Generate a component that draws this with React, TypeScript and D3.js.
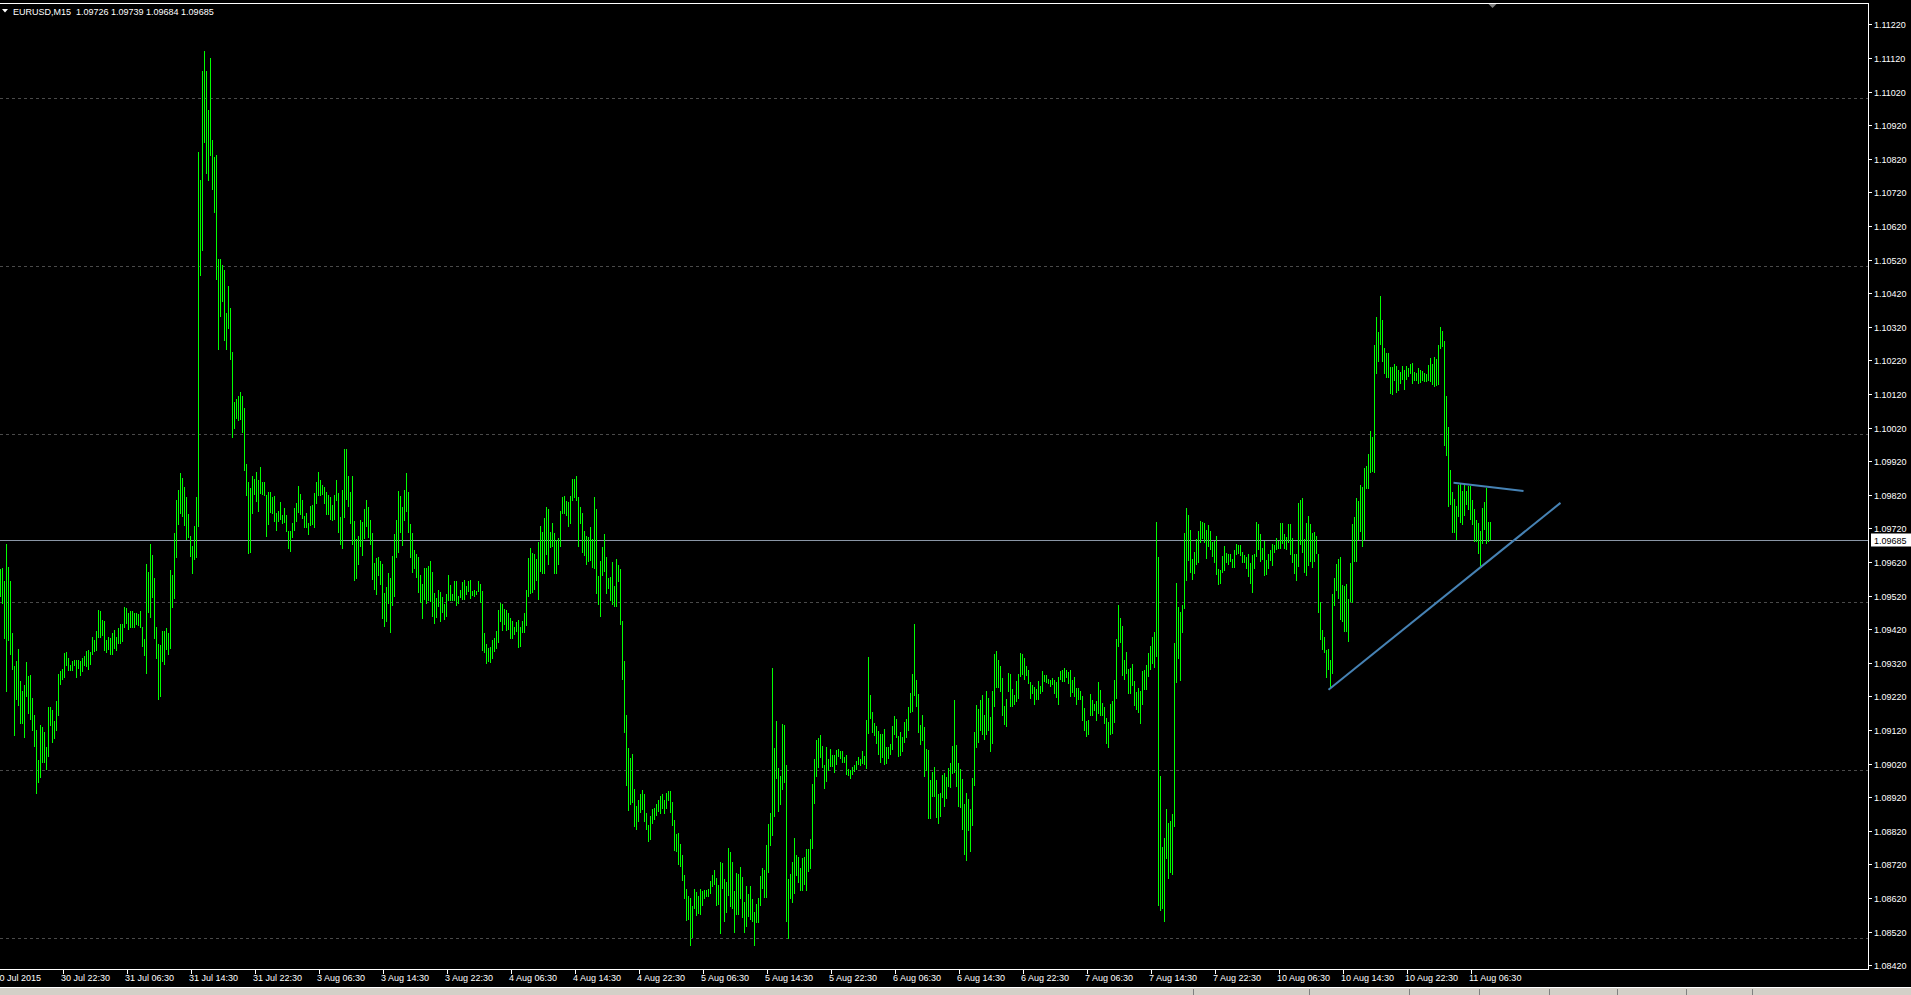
import React from "react";
import * as d3 from "d3";

// ---- data (prices stored as pips above 1.08000) ----
const SYMBOL = "EURUSD,M15";
const LAST_OHLC = ["1.09726", "1.09739", "1.09684", "1.09685"];
const LAST_PRICE = 1.09685;
const PIP_BASE = 1.08;

const HIGHS = [
  159.8,160.3,156.2,167.4,160.6,156.2,140.8,131.0,132.5,136.1,
  126.6,123.7,125.5,132.2,128.1,128.4,121.4,116.4,112.0,103.2,
  113.5,112.9,111.3,106.9,118.9,118.9,118.1,114.8,120.6,128.8,
  129.6,130.3,135.0,135.3,133.5,131.4,132.5,132.9,132.8,132.8,
  132.5,133.5,133.9,135.4,135.8,135.1,139.6,138.8,141.5,147.7,
  147.4,144.8,144.5,138.8,139.8,139.4,141.0,141.7,139.6,142.4,
  143.6,143.4,148.6,148.3,146.8,147.4,147.4,146.7,146.7,146.5,
  147.4,142.6,139.1,161.4,159.1,167.4,164.1,157.1,142.7,137.6,
  137.3,141.5,141.5,142.4,140.8,159.7,158.1,170.7,180.5,183.5,
  188.5,186.9,184.4,181.3,176.4,169.8,166.9,172.7,181.3,283.9,
  275.6,308.0,314.0,308.0,296.6,312.1,287.7,282.4,283.0,252.3,
  252.3,250.5,248.8,236.2,244.0,237.7,224.4,209.6,210.6,211.3,
  212.5,211.5,207.7,191.3,185.9,184.0,187.5,186.6,188.8,186.4,
  190.3,185.8,185.8,181.9,182.8,182.8,181.3,181.6,176.6,177.2,
  179.9,176.0,178.1,176.0,171.2,171.2,173.6,178.1,179.6,184.6,
  182.2,180.5,175.7,176.6,173.6,178.7,179.0,182.5,185.8,188.8,
  186.4,184.9,184.3,182.8,181.9,181.3,179.0,181.9,186.4,182.5,
  175.4,183.4,195.6,195.6,187.6,182.8,187.6,174.2,168.9,169.7,
  174.5,173.9,177.8,180.5,178.4,174.5,170.6,161.7,163.2,163.5,
  162.3,161.4,152.8,154.6,158.7,157.2,163.8,170.3,174.5,183.1,
  181.6,178.4,183.4,188.5,182.8,173.3,170.6,165.6,164.4,163.5,
  158.1,155.5,160.2,160.2,160.8,162.3,159.0,152.9,151.4,153.7,
  153.2,151.7,149.5,152.6,158.1,155.2,152.6,156.3,156.3,152.0,
  153.7,156.0,156.6,154.9,156.3,156.6,153.5,153.7,153.4,156.3,
  155.5,153.4,140.9,137.6,136.5,136.7,138.9,139.4,141.5,147.7,
  149.8,149.5,148.0,147.7,146.8,145.3,144.4,142.7,144.1,144.7,
  142.7,144.4,146.8,153.7,163.2,166.2,164.7,164.4,162.9,168.0,
  172.7,170.9,175.1,178.4,177.8,170.9,173.6,170.6,168.6,169.2,
  177.2,181.3,181.6,180.2,179.9,181.6,186.7,186.7,187.6,181.3,
  178.4,176.6,171.2,169.7,169.4,172.4,168.9,181.3,177.8,157.8,
  162.3,166.5,170.3,163.5,157.2,157.6,162.0,155.0,163.0,161.0,
  160.0,144.4,132.5,116.5,106.6,103.7,104.9,94.4,89.4,91.2,
  93.0,94.2,93.0,87.3,83.7,86.4,88.5,88.8,90.0,91.2,
  92.4,93.0,91.2,93.3,93.9,93.9,90.6,85.2,81.1,81.4,
  78.1,74.8,68.9,64.7,62.6,62.0,59.6,64.7,63.8,62.6,
  64.7,64.1,64.4,64.4,64.7,67.1,68.9,70.3,68.0,65.9,
  72.7,72.4,67.7,66.8,76.9,75.7,72.7,64.1,69.5,69.2,
  71.2,68.3,60.8,65.6,63.2,65.6,61.7,57.8,60.2,62.0,
  68.6,70.9,70.3,77.8,84.0,87.3,130.5,106.6,114.7,100.7,
  98.3,113.8,113.5,101.6,67.7,69.2,72.7,79.9,74.8,74.2,
  70.9,73.9,74.2,76.6,76.6,79.6,95.9,103.4,109.0,109.6,
  110.5,107.2,101.6,106.9,103.4,106.4,104.6,104.6,106.1,106.4,
  105.8,105.8,104.0,104.6,100.4,100.1,101.1,101.6,102.8,104.0,
  103.4,105.8,104.3,115.0,133.7,122.4,117.4,114.1,113.2,111.7,
  110.8,110.8,112.3,106.9,106.9,107.8,113.2,116.2,115.3,110.2,
  111.4,109.9,114.4,115.3,118.9,123.0,128.7,143.6,126.9,122.7,
  113.5,116.5,112.9,106.4,106.1,97.1,99.5,101.0,97.1,93.0,
  93.3,98.6,99.2,98.0,100.7,102.2,107.2,120.9,107.5,102.2,
  100.4,97.4,90.0,93.3,91.5,88.5,97.7,111.4,119.4,118.3,
  120.9,122.4,116.5,123.6,121.5,115.9,123.6,134.6,135.5,132.8,
  131.1,127.5,119.1,121.2,129.0,128.7,124.2,122.4,126.6,128.7,
  134.9,134.6,133.4,131.1,129.9,126.3,125.4,124.8,124.2,126.6,
  125.1,129.6,128.5,128.4,127.2,126.9,127.5,126.9,126.4,127.8,
  129.6,130.0,130.5,130.0,129.3,129.9,126.9,127.8,124.5,124.5,
  123.7,122.1,118.6,114.8,115.0,122.7,120.9,119.7,120.6,126.3,
  123.9,120.0,118.9,115.6,114.4,119.7,120.6,126.9,139.1,149.2,
  145.3,143.0,132.8,135.2,130.2,130.5,131.6,126.6,123.3,124.5,
  123.6,129.6,129.9,131.4,134.9,137.0,139.7,141.2,173.9,163.5,
  98.3,77.2,79.9,88.5,84.3,84.9,87.0,137.9,155.8,148.6,
  147.1,149.2,170.6,178.1,176.0,171.5,162.9,165.0,168.8,171.2,
  174.2,173.9,173.6,171.5,173.0,171.2,168.1,168.3,169.7,159.9,
  159.7,163.8,166.8,164.7,164.4,164.4,162.9,165.6,167.4,167.1,
  167.1,165.0,164.1,163.5,164.4,161.7,164.1,164.4,173.9,173.3,
  170.3,166.2,168.3,162.6,164.4,165.6,167.4,167.1,169.1,168.3,
  173.6,173.6,170.3,169.4,173.3,173.3,169.1,164.4,164.4,179.6,
  180.5,181.0,168.8,173.6,175.7,173.3,170.6,170.9,169.7,164.4,
  150.1,141.8,139.7,135.8,136.1,132.8,152.5,157.2,161.4,162.9,
  163.5,155.2,155.0,155.5,151.0,161.7,173.3,175.4,181.1,180.2,
  184.9,184.3,190.0,190.6,194.1,201.0,199.2,226.6,234.9,230.5,
  241.2,234.0,225.7,224.2,224.2,220.0,220.0,220.9,220.3,219.1,
  218.6,220.3,219.1,220.3,219.7,220.9,221.2,218.6,218.3,219.7,
  219.1,218.8,218.3,218.0,220.6,222.7,220.9,223.0,222.4,226.6,
  231.9,230.8,227.8,211.4,202.2,189.4,182.8,180.8,178.7,184.9,
  185.2,183.1,185.2,183.1,184.6,184.6,180.5,177.8,174.5,173.7,
  171.2,178.1,179.9,184.0,173.9,173.9,
];

const LOWS = [
  151.5,149.6,139.1,123.4,138.6,134.2,130.0,110.1,120.8,119.0,
  113.7,113.9,109.5,121.9,116.8,115.0,111.6,106.9,93.0,96.2,
  97.8,102.3,102.3,100.0,104.1,113.2,108.2,109.4,111.6,116.1,
  125.3,126.8,127.4,131.0,129.7,129.6,129.6,130.9,127.6,130.3,
  128.2,129.3,130.9,130.7,129.8,131.2,134.4,135.3,135.4,139.5,
  139.5,140.1,135.4,134.9,135.7,134.2,134.2,136.1,135.5,137.6,
  137.6,138.3,142.4,143.4,141.7,142.4,142.4,142.4,143.2,143.0,
  142.3,136.6,133.9,128.8,146.8,145.2,151.2,139.1,133.2,120.8,
  121.9,132.2,131.3,135.7,134.2,136.0,148.3,150.9,163.1,172.9,
  176.4,175.3,172.7,168.6,169.1,163.6,158.4,162.5,163.3,172.3,
  247.0,254.6,286.8,277.6,275.4,282.9,272.8,265.9,245.9,225.1,
  234.9,239.3,227.9,225.1,231.2,222.2,198.8,201.7,204.5,203.9,
  204.2,200.5,189.1,181.5,164.4,164.7,176.4,181.9,180.0,177.0,
  182.3,181.9,181.7,169.5,173.0,176.5,176.3,174.0,171.3,173.9,
  174.5,173.3,173.6,171.0,166.0,165.1,169.2,171.3,174.0,176.6,
  176.1,174.9,172.2,172.2,170.1,172.8,173.1,172.2,179.4,181.7,
  181.7,182.0,179.4,176.1,176.1,174.5,174.3,174.4,180.3,170.6,
  167.2,166.0,175.2,180.6,178.5,173.4,167.2,156.4,157.0,161.2,
  166.6,163.9,168.9,172.5,169.2,167.1,156.7,153.8,152.3,157.9,
  155.3,145.1,142.8,144.0,149.6,141.0,149.0,151.5,163.3,164.8,
  170.7,166.9,174.3,177.0,170.7,163.3,158.8,160.0,157.3,152.9,
  149.9,145.1,150.8,149.6,150.5,150.2,145.7,143.4,145.4,148.7,
  144.0,146.9,144.8,145.7,150.5,150.3,150.5,150.5,149.0,149.6,
  151.4,150.7,150.8,152.3,153.2,151.1,152.0,151.7,152.3,153.2,
  149.9,135.6,135.0,131.7,132.3,132.0,133.2,135.3,136.1,138.0,
  144.1,141.5,143.3,141.6,141.8,139.2,139.2,140.4,141.3,136.5,
  136.8,141.0,141.0,143.1,151.7,152.5,152.9,153.8,156.2,150.8,
  158.9,158.5,158.5,164.2,161.2,166.3,166.6,158.5,158.5,161.2,
  166.6,176.4,176.4,175.8,172.5,173.4,180.3,180.9,180.3,166.6,
  173.3,164.8,163.9,161.2,161.9,162.4,160.3,159.8,152.6,149.3,
  145.7,157.9,159.1,152.6,154.1,150.5,149.2,148.7,148.7,155.9,
  143.3,126.9,111.2,95.3,88.0,89.7,90.2,83.2,82.3,84.7,
  87.4,88.3,84.7,82.3,78.8,79.4,84.1,85.3,86.4,87.7,
  87.1,88.5,87.1,88.6,91.0,87.4,83.5,76.0,75.8,71.8,
  71.3,67.2,61.7,55.3,55.6,47.8,50.2,58.8,56.5,57.3,
  56.9,59.7,61.8,62.4,62.4,63.3,65.4,66.0,59.7,60.0,
  51.4,64.8,55.0,57.6,62.7,59.4,58.8,51.7,57.0,57.0,
  61.8,55.9,51.7,53.5,56.2,55.6,55.0,47.8,54.7,54.7,
  59.7,64.7,61.9,62.1,69.5,77.6,80.6,86.2,97.5,87.7,
  89.8,94.0,96.3,55.0,49.7,61.7,60.6,63.2,68.4,66.4,
  64.2,64.2,66.0,64.1,69.8,70.7,76.7,90.1,98.1,100.8,
  103.8,100.8,94.5,96.6,99.9,101.1,101.1,99.3,101.7,104.1,
  103.5,102.3,102.3,98.7,98.4,97.5,98.7,99.6,100.2,101.7,
  101.4,102.0,101.7,100.5,110.8,115.4,111.2,110.3,107.9,104.7,
  102.3,103.8,101.7,102.0,103.5,104.7,105.9,110.6,109.7,104.1,
  104.4,105.6,108.2,109.7,111.8,117.2,117.5,122.2,118.7,111.2,
  107.6,108.8,98.1,99.9,85.6,85.6,92.0,92.2,85.9,84.1,
  86.2,91.9,89.2,91.6,95.1,94.8,99.0,99.3,95.1,89.1,
  88.9,82.3,74.9,72.9,81.8,75.8,83.5,95.4,106.5,108.2,
  111.8,110.6,109.1,110.6,111.8,105.6,107.9,118.7,124.6,124.5,
  123.4,116.3,113.6,113.0,123.4,118.7,118.7,119.5,120.4,121.3,
  127.9,128.5,127.0,128.2,125.8,121.3,122.8,119.5,120.9,121.0,
  122.8,123.4,126.2,126.1,125.8,124.8,125.5,122.8,121.6,119.5,
  126.9,126.3,126.3,127.5,125.7,121.9,123.1,121.9,119.5,120.9,
  120.9,114.8,111.8,110.0,110.5,116.1,116.1,117.8,114.8,116.9,
  116.3,116.3,113.9,107.8,106.7,110.6,110.9,114.2,121.3,136.8,
  138.0,128.1,126.9,128.8,122.8,122.8,125.2,119.0,118.1,117.2,
  113.9,119.5,124.0,124.0,127.9,130.0,131.7,130.6,133.8,59.7,
  58.2,58.6,55.0,73.7,67.8,69.5,68.7,83.2,126.1,133.2,
  126.7,141.0,148.1,156.4,162.4,158.8,156.7,158.5,161.2,161.8,
  167.8,168.8,167.8,163.0,166.6,165.7,163.6,161.8,158.2,155.3,
  155.6,158.8,159.4,161.8,161.2,162.1,160.3,160.3,164.2,164.5,
  163.9,161.8,161.8,160.0,157.6,155.6,152.9,160.0,163.6,165.7,
  162.1,162.7,157.9,158.2,160.0,162.4,160.9,164.8,165.7,166.0,
  166.0,167.4,166.0,165.7,167.7,164.2,161.8,158.5,156.4,160.6,
  167.2,164.8,158.8,157.9,160.9,162.1,160.3,162.1,164.4,146.9,
  138.9,135.9,135.0,127.6,130.0,124.9,128.8,149.0,153.5,151.1,
  144.7,144.2,141.3,141.3,138.3,150.2,149.7,162.1,162.1,168.6,
  171.0,166.6,168.6,183.8,183.8,188.6,188.8,188.6,218.1,221.6,
  226.7,221.6,218.1,216.9,216.9,212.1,211.8,216.0,212.4,213.0,
  215.1,216.3,213.3,216.3,217.2,218.1,215.1,216.0,216.0,215.1,
  215.4,216.0,215.7,215.7,216.0,215.7,214.8,214.2,214.5,214.8,
  225.4,226.1,196.6,193.4,178.5,178.9,170.7,170.7,168.6,175.5,
  173.7,173.1,175.7,179.1,177.5,174.5,173.1,168.1,168.1,164.5,
  160.9,167.5,171.6,167.5,168.1,168.4,
];

const TIME_TICK_BARS = [31, 63, 95, 127, 159, 191, 223, 255, 287, 319, 351, 383, 415, 447, 479, 511, 543, 575, 607, 639, 671, 703, 735];
const TIME_TICK_LABELS = [
  "30 Jul 22:30", "31 Jul 06:30", "31 Jul 14:30", "31 Jul 22:30",
  "3 Aug 06:30", "3 Aug 14:30", "3 Aug 22:30",
  "4 Aug 06:30", "4 Aug 14:30", "4 Aug 22:30",
  "5 Aug 06:30", "5 Aug 14:30", "5 Aug 22:30",
  "6 Aug 06:30", "6 Aug 14:30", "6 Aug 22:30",
  "7 Aug 06:30", "7 Aug 14:30", "7 Aug 22:30",
  "10 Aug 06:30", "10 Aug 14:30", "10 Aug 22:30", "11 Aug 06:30",
];
const FIRST_DATE_LABEL = "30 Jul 2015";

const PRICE_TICKS = [
  1.0842, 1.0852, 1.0862, 1.0872, 1.0882, 1.0892, 1.0902, 1.0912, 1.0922, 1.0932,
  1.0942, 1.0952, 1.0962, 1.0972, 1.0982, 1.0992, 1.1002, 1.1012, 1.1022, 1.1032,
  1.1042, 1.1052, 1.1062, 1.1072, 1.1082, 1.1092, 1.1102, 1.1112, 1.1122,
];
const GRID_LEVELS = [1.085, 1.09, 1.095, 1.1, 1.105, 1.11];

// trend lines in (bar index, pips above 1.08)
const TREND_BARS_1 = [664, 780];
const TREND_PIPS_1 = [124.0, 179.6];
const TREND_BARS_2 = [726.5, 761.5];
const TREND_PIPS_2 = [185.6, 183.1];

const STATUS_SEPARATORS = [1193, 1309, 1409, 1479, 1549, 1617, 1686, 1752];

const W = 1911;
const H = 995;
const PLOT_RIGHT = 1868;
const PLOT_TOP = 3;
const PLOT_BOTTOM = 969;
const FONT = "'Liberation Sans', Arial, sans-serif";

const toPrice = (pips: number) => PIP_BASE + pips / 10000;

export default function App() {
  const x = d3.scaleLinear().domain([0, 1]).range([0.5, 2.5]);
  const y = d3.scaleLinear().domain([1.0842, 1.1122]).range([965.2, 24.4]);
  const crisp = (v: number) => Math.round(v) + 0.5;

  const barPath = d3.path();
  HIGHS.forEach((h, i) => {
    const yh = Math.round(y(toPrice(h)));
    const yl = Math.max(Math.round(y(toPrice(LOWS[i]))), yh + 1);
    barPath.moveTo(x(i), yh);
    barPath.lineTo(x(i), yl);
  });

  const line = d3
    .line<[number, number]>()
    .x((d) => x(d[0]))
    .y((d) => y(toPrice(d[1])));

  const tl1: [number, number][] = TREND_BARS_1.map((b, i) => [b, TREND_PIPS_1[i]]);
  const tl2: [number, number][] = TREND_BARS_2.map((b, i) => [b, TREND_PIPS_2[i]]);

  const lastY = crisp(y(LAST_PRICE));
  const shiftX = x(HIGHS.length);

  return (
    <svg
      width={W}
      height={H}
      style={{ position: "fixed", left: 0, top: 0, display: "block", background: "#000" }}
    >
      <rect x={0} y={0} width={W} height={H} fill="#000" />
      <defs>
        <clipPath id="plot">
          <rect x={0} y={PLOT_TOP} width={PLOT_RIGHT} height={PLOT_BOTTOM - PLOT_TOP} />
        </clipPath>
      </defs>

      {/* grid */}
      {GRID_LEVELS.map((g) => (
        <line
          key={g}
          x1={0}
          x2={PLOT_RIGHT}
          y1={crisp(y(g))}
          y2={crisp(y(g))}
          stroke="#4a4a4a"
          strokeDasharray="3,3"
          shapeRendering="crispEdges"
        />
      ))}

      {/* bid line */}
      <line x1={0} x2={PLOT_RIGHT} y1={lastY} y2={lastY} stroke="#8a96a6" shapeRendering="crispEdges" />

      {/* bars */}
      <g clipPath="url(#plot)">
        <path d={barPath.toString()} stroke="#00ff00" strokeWidth={1} fill="none" shapeRendering="crispEdges" />
      </g>

      {/* trend lines */}
      <g clipPath="url(#plot)">
        <path d={line(tl1) || ""} stroke="#4682b4" strokeWidth={2} fill="none" />
        <path d={line(tl2) || ""} stroke="#4682b4" strokeWidth={2} fill="none" />
      </g>

      {/* frame */}
      <line x1={0} x2={PLOT_RIGHT + 0.5} y1={PLOT_TOP + 0.5} y2={PLOT_TOP + 0.5} stroke="#fff" shapeRendering="crispEdges" />
      <line x1={0} x2={PLOT_RIGHT + 0.5} y1={PLOT_BOTTOM + 0.5} y2={PLOT_BOTTOM + 0.5} stroke="#fff" shapeRendering="crispEdges" />
      <line x1={PLOT_RIGHT + 0.5} x2={PLOT_RIGHT + 0.5} y1={PLOT_TOP} y2={PLOT_BOTTOM + 1} stroke="#fff" shapeRendering="crispEdges" />

      {/* chart shift marker */}
      <path d={`M${shiftX - 4},${PLOT_TOP + 1} L${shiftX + 4},${PLOT_TOP + 1} L${shiftX},${PLOT_TOP + 5} Z`} fill="#808080" />

      {/* price axis */}
      {PRICE_TICKS.map((p) => {
        const yy = crisp(y(p));
        return (
          <g key={p}>
            <line x1={PLOT_RIGHT + 1} x2={PLOT_RIGHT + 4} y1={yy} y2={yy} stroke="#fff" shapeRendering="crispEdges" />
            <text x={PLOT_RIGHT + 6} y={yy} dy="0.35em" fill="#fff" fontFamily={FONT} fontSize={9}>
              {p.toFixed(5)}
            </text>
          </g>
        );
      })}
      <rect x={PLOT_RIGHT + 3} y={lastY - 7} width={41} height={13} fill="#fff" />
      <text x={PLOT_RIGHT + 6} y={lastY} dy="0.35em" fill="#000" fontFamily={FONT} fontSize={9}>
        {LAST_PRICE.toFixed(5)}
      </text>

      {/* time axis */}
      <text x={x(0) - 6} y={PLOT_BOTTOM + 9} dy="0.35em" fill="#fff" fontFamily={FONT} fontSize={9}>
        {FIRST_DATE_LABEL}
      </text>
      {TIME_TICK_BARS.map((b, i) => {
        const xx = Math.round(x(b)) + 0.5;
        return (
          <g key={b}>
            <line x1={xx} x2={xx} y1={PLOT_BOTTOM + 1} y2={PLOT_BOTTOM + 5} stroke="#fff" shapeRendering="crispEdges" />
            <text x={xx - 2.5} y={PLOT_BOTTOM + 9} dy="0.35em" fill="#fff" fontFamily={FONT} fontSize={9}>
              {TIME_TICK_LABELS[i]}
            </text>
          </g>
        );
      })}

      {/* header */}
      <path d="M2,9 L8,9 L5,12.5 Z" fill="#fff" />
      <text x={13} y={12} dy="0.35em" fill="#fff" fontFamily={FONT} fontSize={9} style={{ whiteSpace: "pre" }}>
        {`${SYMBOL}  ${LAST_OHLC.join(" ")}`}
      </text>

      {/* status bar */}
      <rect x={0} y={987} width={W} height={H - 987} fill="#d4d0c8" />
      <line x1={0} x2={W} y1={987.5} y2={987.5} stroke="#ffffff" shapeRendering="crispEdges" />
      {STATUS_SEPARATORS.map((s) => (
        <line key={s} x1={s + 0.5} x2={s + 0.5} y1={989} y2={H} stroke="#808080" shapeRendering="crispEdges" />
      ))}
    </svg>
  );
}
